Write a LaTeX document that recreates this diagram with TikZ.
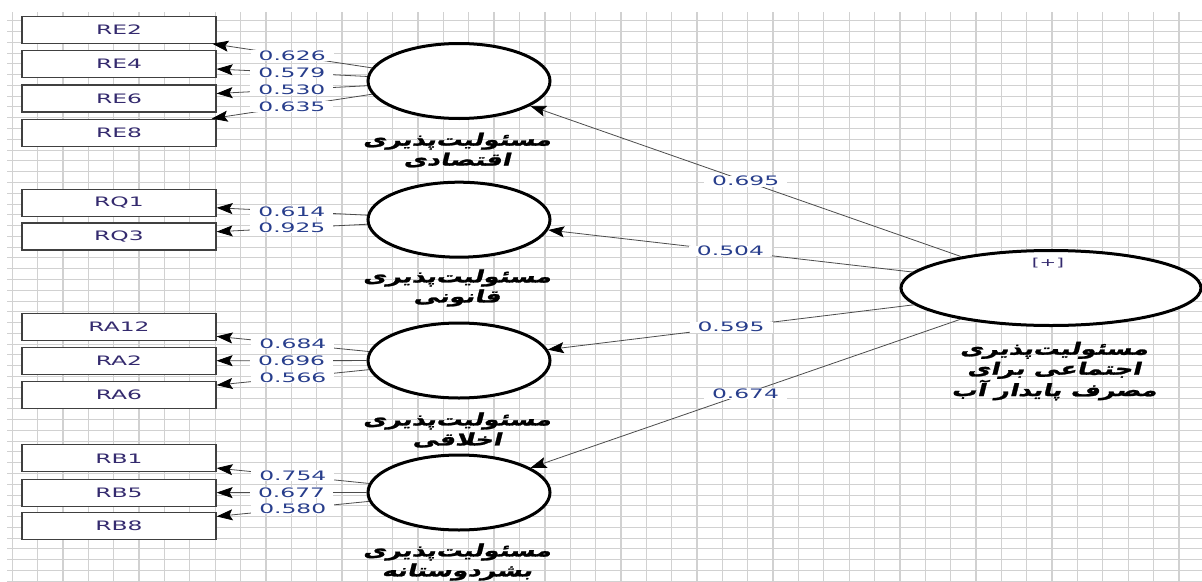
\documentclass[tikz,border=0pt]{standalone}
\usepackage{fontspec}
\usepackage{tikz}
\usetikzlibrary{arrows.meta,shapes.geometric}
\TeXXeTstate=1
\newfontfamily\valfont[FakeStretch=1.8]{DejaVu Sans}
\newfontfamily\fafont[Script=Arabic,FakeSlant=0.25,FakeStretch=1.5,FakeBold=1.5]{DejaVu Sans}
\definecolor{valblue}{RGB}{40,62,140}
\definecolor{indtext}{RGB}{52,42,110}

\tikzset{
  gridv/.style={draw=black!18,line width=1.3pt},
  gridh/.style={draw=black!18,line width=0.9pt},
  ind/.style={draw=black!75,line width=1.2pt,fill=white,minimum width=194pt,minimum height=27pt,
    inner sep=0pt,text=indtext,font=\valfont\fontsize{13}{15}\selectfont},
  lv/.style={ellipse,draw=black,line width=3pt,fill=white,minimum width=182pt,minimum height=75pt},
  link/.style={draw=black!70,line width=0.8pt,-{Stealth[length=16pt,width=11pt,inset=3pt,black]}},
  val/.style={fill=white,text=valblue,inner xsep=8pt,inner ysep=0.5pt,font=\valfont\fontsize{13}{15}\selectfont},
  falbl/.style={align=center,font=\fafont\bfseries\fontsize{17}{20}\selectfont}
}

\begin{document}
\begin{tikzpicture}[x=1pt,y=-1pt]
\useasboundingbox (0,0) rectangle (1202,581);
\fill[white] (0,0) rectangle (1202,581);

% grid
\foreach \i in {0,...,46}
    \draw[gridv] ({12.3+25.36*\i},12) -- ({12.3+25.36*\i},581);
\foreach \j in {0,...,52}
    \draw[gridh] (7,{20.7+10.78*\j}) -- (1202,{20.7+10.78*\j});

% indicators
\foreach \n/\y in {RE2/29.7,RE4/64.2,RE6/98.5,RE8/132.7,RQ1/203,RQ3/236.5,RA12/326.7,RA2/360.8,RA6/395,RB1/458.3,RB5/492.7,RB8/526}
    \node[ind] (\n) at (119,\y) {\n};

% latent variables
\node[lv] (ECO) at (459,81) {};
\node[lv] (LEG) at (459,219.7) {};
\node[lv] (ETH) at (459,360.5) {};
\node[lv] (PHI) at (459,492.5) {};
\node[lv,minimum width=300pt] (CSR) at (1051,288) {};
\node[text=indtext,font=\valfont\fontsize{11}{13}\selectfont] (plus) at (1048,263) {[+]};

\node[falbl] (ECOlbl) at (457,150) {\beginR مسئولیت‌پذیری\endR\\\beginR اقتصادی\endR};
\node[falbl] (LEGlbl) at (457,288) {\beginR مسئولیت‌پذیری\endR\\\beginR قانونی\endR};
\node[falbl] (ETHlbl) at (457,430) {\beginR مسئولیت‌پذیری\endR\\\beginR اخلاقی\endR};
\node[falbl] (PHIlbl) at (457,562) {\beginR مسئولیت‌پذیری\endR\\\beginR بشردوستانه\endR};
\node[falbl] (CSRlbl) at (1054,371) {\beginR مسئولیت‌پذیری\endR\\\beginR اجتماعی برای\endR\\\beginR مصرف پایدار آب\endR};

% outer loadings
\foreach \a/\b/\v in {ECO/RE2/0.626,ECO/RE4/0.579,ECO/RE6/0.530,ECO/RE8/0.635,
    LEG/RQ1/0.614,LEG/RQ3/0.925,
    ETH/RA12/0.684,ETH/RA2/0.696,ETH/RA6/0.566,
    PHI/RB1/0.754,PHI/RB5/0.677,PHI/RB8/0.580}
    \draw[link] (\a) -- node[val] {\v} (\b);

% second order paths
\foreach \b/\v in {ECO/0.695,LEG/0.504,ETH/0.595,PHI/0.674}
    \draw[link] (CSR) -- node[val] {\v} (\b);

\end{tikzpicture}
\end{document}
